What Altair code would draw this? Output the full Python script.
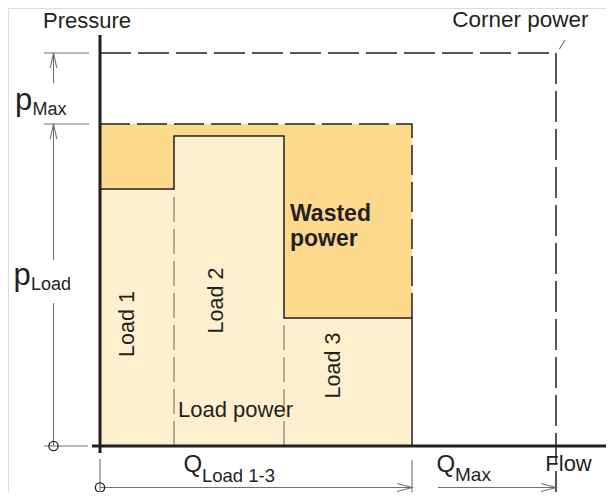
import altair as alt
import pandas as pd

# ---------------- data (drawing units) ----------------
load_names = ["Load 1", "Load 2", "Load 3"]
load_flow = [74, 110, 128]        # flow taken by each load
load_pressure = [257, 310, 128]   # pressure each load needs
p_load = 322                      # pressure the pump delivers
p_max = 393                       # maximum pump pressure (corner power)
q_max = 456                       # maximum pump flow (corner power)

q_load = sum(load_flow)
x_start = [sum(load_flow[:i]) for i in range(len(load_flow))]
x_end = [sum(load_flow[: i + 1]) for i in range(len(load_flow))]

# ---------------- layout / style ----------------
FONT = "Liberation Sans"
INK = "#231f20"
DIM = "#707070"
ORANGE = "#fdd98b"
LIGHT = "#fef0cf"
W, H = 598, 484
X_DOM = [-92, W - 92]
Y_DOM = [438 - H, 438]
DIM_X = -46.5   # vertical dimension line (pressure)
DIM_Y = -41.5   # horizontal dimension line (flow)

xs = alt.Scale(domain=X_DOM, nice=False, zero=False)
ys = alt.Scale(domain=Y_DOM, nice=False, zero=False)

def X(f="x"):
    return alt.X(f + ":Q", scale=xs, axis=None)

def Y(f="y"):
    return alt.Y(f + ":Q", scale=ys, axis=None)

# rectangles
wasted = pd.DataFrame({"x": [0], "x2": [q_load], "y": [0], "y2": [p_load]})
loads = pd.DataFrame({"name": load_names, "x": x_start, "x2": x_end,
                      "y": [0] * 3, "y2": load_pressure})

rect_w = alt.Chart(wasted).mark_rect(color=ORANGE).encode(
    x=X(), x2="x2:Q", y=Y(), y2="y2:Q")
rect_l = alt.Chart(loads).mark_rect(color=LIGHT).encode(
    x=X(), x2="x2:Q", y=Y(), y2="y2:Q")

# polylines
def polylines(lines):
    rows = []
    for sid, pts in enumerate(lines):
        for o, (px, py) in enumerate(pts):
            rows.append({"seg": sid, "ord": o, "x": px, "y": py})
    return pd.DataFrame(rows)

def line_layer(lines, **style):
    return alt.Chart(polylines(lines)).mark_line(strokeCap="butt", **style).encode(
        x=X(), y=Y(), detail="seg:N", order="ord:Q")

corner = [[(0, p_max), (q_max, p_max), (q_max, DIM_Y - 12)]]
wasted_edge = [[(0, p_load), (q_load, p_load), (q_load, load_pressure[2])]]
outline = [[(0, load_pressure[0]), (x_end[0], load_pressure[0]),
            (x_end[0], load_pressure[1]), (x_end[1], load_pressure[1]),
            (x_end[1], load_pressure[2]), (x_end[2], load_pressure[2]),
            (x_end[2], 0)]]
inner = [[(x_end[0], 0), (x_end[0], load_pressure[0])],
         [(x_end[1], 0), (x_end[1], load_pressure[2])]]
axes = [[(0, 411), (0, -7)], [(-8, 0), (W - 92, 0)]]

ah, aw = 15, 3.3   # arrow head length / half width
dims = [
    [(DIM_X, p_max), (DIM_X, p_max - 30)],
    [(DIM_X - aw, p_max - ah), (DIM_X, p_max), (DIM_X + aw, p_max - ah)],
    [(DIM_X, p_load), (DIM_X, 186)],
    [(DIM_X - aw, p_load - ah), (DIM_X, p_load), (DIM_X + aw, p_load - ah)],
    [(DIM_X, 143), (DIM_X, 0)],
    [(-56, p_max), (-11, p_max)],
    [(-56, p_load), (-11, p_load)],
    [(-56, 0), (-12, 0)],
    [(0, DIM_Y), (q_load, DIM_Y)],
    [(q_load - ah, DIM_Y + 4), (q_load, DIM_Y), (q_load - ah, DIM_Y - 4)],
    [(q_load + 26, DIM_Y), (q_max, DIM_Y)],
    [(q_max - ah, DIM_Y + 4), (q_max, DIM_Y), (q_max - ah, DIM_Y - 4)],
    [(0, -13), (0, DIM_Y - 12)],
    [(q_load, -14), (q_load, DIM_Y - 12)],
    [(q_max + 3.3, p_max + 3.7), (q_max + 9, p_max + 13)],
]

l_corner = line_layer(corner, color=INK, strokeWidth=1.5, strokeDash=[31, 7])
l_wasted = line_layer(wasted_edge, color=INK, strokeWidth=1.5, strokeDash=[30, 7])
l_outline = line_layer(outline, color=INK, strokeWidth=1.5)
l_inner = line_layer(inner, color="#8a8276", strokeWidth=1.3, strokeDash=[25, 7])
l_axes = line_layer(axes, color=INK, strokeWidth=3)
l_dims = line_layer(dims, color=DIM, strokeWidth=1.1)

origins = pd.DataFrame({"x": [DIM_X, 0], "y": [0, DIM_Y]})
circles = alt.Chart(origins).mark_point(
    shape="circle", filled=False, size=85, color=INK, strokeWidth=1.3, opacity=1
).encode(x=X(), y=Y())

# text
labels = pd.DataFrame([
    {"t": "Pressure", "x": -57, "y": 418, "s": 22},
    {"t": "p", "x": -85, "y": 336, "s": 31},
    {"t": "Max", "x": -67.5, "y": 331, "s": 18},
    {"t": "p", "x": -86.5, "y": 161, "s": 31},
    {"t": "Load", "x": -69, "y": 156, "s": 18},
    {"t": "Load power", "x": 78, "y": 28.7, "s": 22},
    {"t": "Q", "x": 83.5, "y": -25.7, "s": 24},
    {"t": "Load 1-3", "x": 102, "y": -35.5, "s": 18.5},
    {"t": "Q", "x": 336.5, "y": -25.7, "s": 24},
    {"t": "Max", "x": 355, "y": -35.2, "s": 19},
    {"t": "Flow", "x": 445.3, "y": -25, "s": 22},
])
t_left = alt.Chart(labels).mark_text(
    align="left", baseline="alphabetic", font=FONT, color=INK
).encode(x=X(), y=Y(), text="t:N", size=alt.Size("s:Q", scale=None))

corner_lbl = pd.DataFrame({"t": ["Corner power"], "x": [488.5], "y": [419]})
t_right = alt.Chart(corner_lbl).mark_text(
    align="right", baseline="alphabetic", font=FONT, fontSize=22.5, color=INK
).encode(x=X(), y=Y(), text="t:N")

wasted_lbl = pd.DataFrame({"t": ["Wasted", "power"], "x": [190, 190], "y": [225, 200]})
t_bold = alt.Chart(wasted_lbl).mark_text(
    align="left", baseline="alphabetic", font=FONT, fontSize=23,
    fontWeight="bold", color=INK
).encode(x=X(), y=Y(), text="t:N")

load_lbl = pd.DataFrame({"t": load_names, "x": [28, 117, 234], "y": [122, 145.5, 80.5]})
t_rot = alt.Chart(load_lbl).mark_text(
    align="center", baseline="middle", font=FONT, fontSize=21.5, angle=270, color=INK
).encode(x=X(), y=Y(), text="t:N")

chart = alt.layer(
    rect_w, rect_l, l_inner, l_wasted, l_corner, l_outline, l_dims, l_axes,
    circles, t_left, t_right, t_bold, t_rot
).properties(
    width=W, height=H, autosize="none", padding=0
).configure_view(stroke=None).configure(background="white")

chart.save("out.html", embed_options={"renderer": "svg", "actions": False})
